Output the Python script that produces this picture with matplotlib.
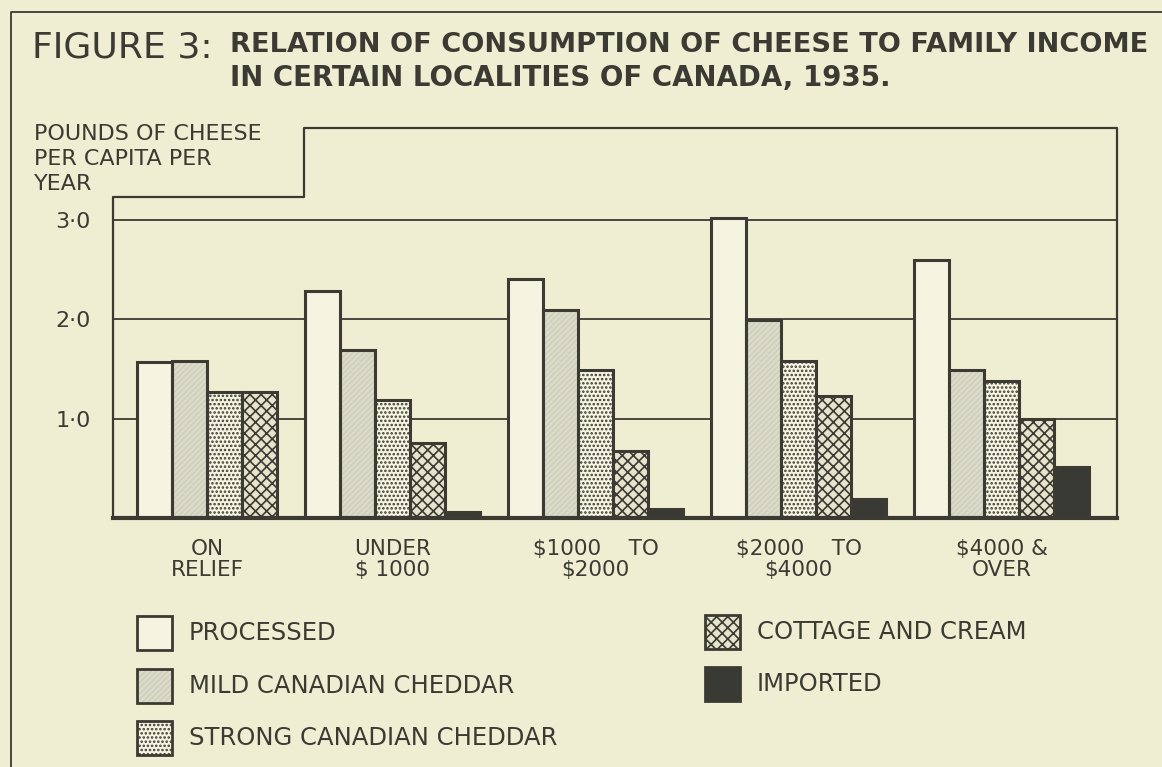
import numpy as np
import matplotlib
matplotlib.use('Agg')
import matplotlib.pyplot as plt
from matplotlib.patches import Rectangle
from matplotlib.lines import Line2D

plt.rcParams.update({'font.family': ['DejaVu Sans'], 'hatch.linewidth': 1.2})

BG = '#EFEED3'; PAPER = '#F5F4E0'; INK = '#3B3B33'

# ---- data (pounds per capita per year) ----
categories = ['ON\nRELIEF', 'UNDER\n$ 1000', '$1000    TO\n$2000', '$2000    TO\n$4000', '$4000 &\nOVER']
processed = [1.57, 2.29, 2.41, 3.02, 2.60]
mild      = [1.58, 1.69, 2.09, 1.99, 1.49]
strong    = [1.27, 1.19, 1.49, 1.58, 1.38]
cottage   = [1.27, 0.76, 0.67, 1.23, 1.00]
imported  = [np.nan, 0.06, 0.09, 0.19, 0.51]
series_names = ['PROCESSED', 'MILD CANADIAN CHEDDAR', 'STRONG CANADIAN CHEDDAR',
                'COTTAGE AND CREAM', 'IMPORTED']
yticks = [1, 2, 3]
ytick_labels = ['1·0', '2·0', '3·0']

series = [processed, mild, strong, cottage, imported]
styles = [dict(fc=PAPER, hatch=None, hc=PAPER),
          dict(fc='#DCDCC9', hatch='//////', hc='#CFCFBD'),
          dict(fc=PAPER, hatch='....', hc=INK),
          dict(fc='#E6E4CC', hatch='xxx', hc=INK),
          dict(fc='#3A3A34', hatch=None, hc='#3A3A34')]

W, H = 1162, 767
fig = plt.figure(figsize=(W/100, H/100), dpi=100, facecolor=BG)
def fx(px): return px / W
def fy(py): return 1 - py / H

# axes box: left 113, right 1117, baseline 518, top 128 (pixels)
ax = fig.add_axes([fx(113), fy(518), fx(1117 - 113), (518 - 128) / H])
ax.set_facecolor('none')
unit = 99.33  # px per pound
ytop = (518 - 128) / unit
gap = 0.8
x0 = -0.686

# bar positions from group sizes
lefts = {i: [] for i in range(5)}
centers = []
pos = 0.0
for g in range(len(categories)):
    k = 0
    for s in range(5):
        if not np.isnan(series[s][g]):
            lefts[s].append((pos + k, series[s][g]))
            k += 1
    centers.append(pos + k / 2)
    pos += k + gap
x1 = pos

for y in yticks:
    ax.plot([x0, x1], [y, y], color=INK, lw=1.3, zorder=1)

for s in range(5):
    xs = [p for p, v in lefts[s]]
    vs = [v for p, v in lefts[s]]
    st = styles[s]
    ax.bar(xs, vs, width=1, align='edge', color=st['fc'], hatch=st['hatch'],
           edgecolor=st['hc'], linewidth=0, zorder=2)
    ax.bar(xs, vs, width=1, align='edge', fill=False, edgecolor=INK, linewidth=2.2, zorder=3)

ax.set_xlim(x0, x1)
ax.set_ylim(0, ytop)
for sp in ax.spines.values():
    sp.set_visible(False)

# notched frame
nx = x0 + (304 - 113) / 35.0
ny = (518 - 197) / unit
ax.plot([x0, x0, nx, nx, x1, x1], [0, ny, ny, ytop, ytop, 0], color=INK, lw=1.6,
        clip_on=False, zorder=4)
ax.plot([x0, x1], [0, 0], color=INK, lw=3, clip_on=False, zorder=4)

ax.set_yticks(yticks)
ax.set_yticklabels(ytick_labels, fontsize=16, color=INK)
ax.set_xticks(centers)
ax.set_xticklabels(categories, fontsize=15.5, color=INK, linespacing=1.1)
ax.tick_params(length=0)
ax.tick_params(axis='y', pad=16)
ax.tick_params(axis='x', pad=15)

# outer border
fig.add_artist(Line2D([fx(11), fx(11), fx(1162)], [0, fy(12), fy(12)], color=INK, lw=1.3))

fig.canvas.draw()
r = fig.canvas.get_renderer()
def fit(t, width):
    bb = t.get_window_extent(r)
    t.set_fontsize(t.get_fontsize() * width / bb.width)

t = fig.text(fx(32), fy(48), 'FIGURE 3:', fontsize=20, color=INK, va='center')
fit(t, 181)
t = fig.text(fx(230), fy(45), 'RELATION OF CONSUMPTION OF CHEESE TO FAMILY INCOME',
             fontsize=18, weight='bold', color=INK, va='center')
fit(t, 918)
t = fig.text(fx(230), fy(78), 'IN CERTAIN LOCALITIES OF CANADA, 1935.',
             fontsize=18, weight='bold', color=INK, va='center')
fit(t, 660)

for txt, yy in [('POUNDS OF CHEESE', 134), ('PER CAPITA PER', 159), ('YEAR', 184)]:
    fig.text(fx(34), fy(yy), txt, fontsize=16, color=INK, va='center')

# legend
rows = [(137, 633), (137, 686), (137, 738), (705, 632), (705, 684)]
for s, (lx, ly) in enumerate(rows):
    st = styles[s]
    bw, bh = 35, 34
    fig.add_artist(Rectangle((fx(lx), fy(ly + bh / 2)), bw / W, bh / H, facecolor=st['fc'],
                             hatch=st['hatch'], edgecolor=st['hc'], linewidth=0,
                             transform=fig.transFigure))
    fig.add_artist(Rectangle((fx(lx), fy(ly + bh / 2)), bw / W, bh / H, fill=False,
                             edgecolor=INK, linewidth=2, transform=fig.transFigure))
    fig.text(fx(lx + 52), fy(ly), series_names[s], fontsize=17.5, color=INK, va='center')

fig.savefig('out.png', dpi=100, facecolor=BG)
